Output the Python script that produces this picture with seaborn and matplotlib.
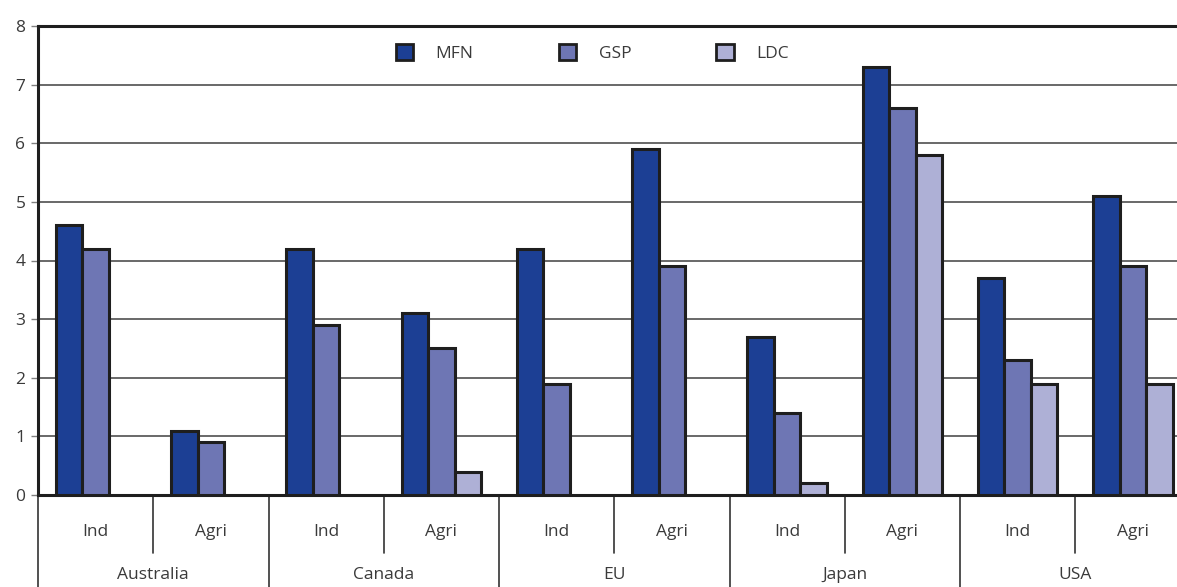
import matplotlib
matplotlib.use("Agg")
import matplotlib.pyplot as plt
import matplotlib.transforms as mtransforms
from matplotlib.patches import Patch
import seaborn as sns
import pandas as pd
import numpy as np

# Average tariff by market, sector and preference scheme
countries = ["Australia", "Canada", "EU", "Japan", "USA"]
sectors = ["Ind", "Agri"]
schemes = ["MFN", "GSP", "LDC"]
mfn = [4.6, 1.1, 4.2, 3.1, 4.2, 5.9, 2.7, 7.3, 3.7, 5.1]
gsp = [4.2, 0.9, 2.9, 2.5, 1.9, 3.9, 1.4, 6.6, 2.3, 3.9]
ldc = [np.nan, np.nan, np.nan, 0.4, np.nan, np.nan, 0.2, 5.8, 1.9, 1.9]
yticks = [0, 1, 2, 3, 4, 5, 6, 7, 8]

colors = {"MFN": "#1c3f94", "GSP": "#6e76b4", "LDC": "#aeb0d6"}
text_color = "#3a3a3a"

groups = [f"{c}|{s}" for c in countries for s in sectors]
rows = []
for scheme, vals in zip(schemes, [mfn, gsp, ldc]):
    for g, v in zip(groups, vals):
        if not np.isnan(v):
            rows.append({"group": g, "scheme": scheme, "value": v})
df = pd.DataFrame(rows)

sns.set_theme(style="white")
plt.rcParams["font.family"] = ["Open Sans", "DejaVu Sans"]

fig = plt.figure(figsize=(11.77, 5.87), dpi=100)
# the plot area runs slightly past the right edge of the figure
ax = fig.add_axes([38 / 1177, 1 - 495 / 587, 1152.5 / 1177, (495 - 26) / 587])

sns.barplot(data=df, x="group", y="value", hue="scheme", order=groups,
            hue_order=schemes, palette=colors, saturation=1, width=0.69,
            dodge=True, edgecolor="#1e1e1e", linewidth=2.2, legend=False,
            ax=ax, zorder=3)

ax.set_xlim(-0.5, len(groups) - 0.5)
ax.set_ylim(0, 8)
ax.set_yticks(yticks)
ax.set_yticklabels([str(t) for t in yticks], fontsize=12.5, color=text_color)
ax.yaxis.grid(True, color="#404040", linewidth=1.1, zorder=0)
ax.set_axisbelow(True)
ax.set_xticks([])
ax.set_xlabel("")
ax.set_ylabel("")
ax.tick_params(axis="y", left=True, length=5, width=1, color="#808080", pad=4)

for side in ["left", "top", "bottom"]:
    ax.spines[side].set_visible(True)
    ax.spines[side].set_color("#1e1e1e")
    ax.spines[side].set_linewidth(2.2)
ax.spines["right"].set_visible(False)

# Two-level category axis below the plot
trans = mtransforms.blended_transform_factory(ax.transData, ax.transAxes)
for i, g in enumerate(groups):
    country, sector = g.split("|")
    ax.text(i, -0.079, sector, transform=trans, ha="center", va="center",
            fontsize=12.5, color=text_color)
for k, country in enumerate(countries):
    ax.text(2 * k + 0.5, -0.171, country, transform=trans, ha="center",
            va="center", fontsize=12.5, color=text_color)
for i in range(len(groups)):
    x = i - 0.5
    bottom = -0.2 if i % 2 == 0 else -0.124
    ax.plot([x, x], [0, bottom], transform=trans, color="#333333",
            linewidth=1.2, clip_on=False)

handles = [Patch(facecolor=colors[s], edgecolor="#1e1e1e", linewidth=2, label=s)
           for s in schemes]
leg = ax.legend(handles=handles, loc="upper center", bbox_to_anchor=(0.481, 0.995),
                ncol=3, frameon=False, fontsize=12.5, handlelength=1.0,
                handleheight=1.0, columnspacing=4.9, handletextpad=1.3)
for t in leg.get_texts():
    t.set_color(text_color)

fig.savefig("out.png", dpi=100)
